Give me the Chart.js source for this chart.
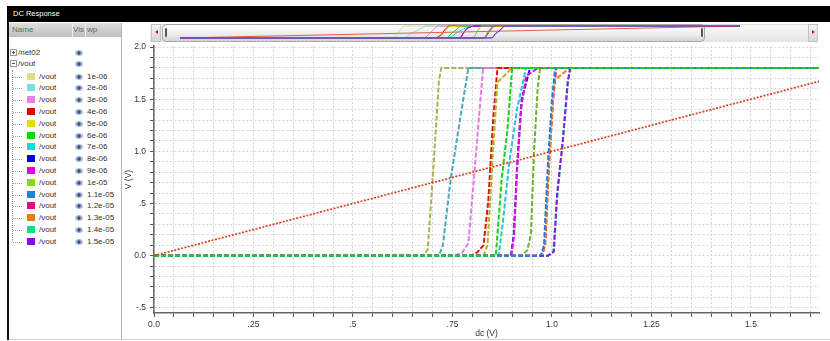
<!DOCTYPE html>
<html>
<head>
<meta charset="utf-8">
<script src="https://cdn.jsdelivr.net/npm/chart.js@4.4.0/dist/chart.umd.min.js"></script>
<style>
  body { margin:0; width:830px; height:341px; background:#fff; position:relative; overflow:hidden;
         font-family:"Liberation Sans", Arial, sans-serif; }
  .abs { position:absolute; }
  #titlebar { left:7px; top:6px; width:823px; height:16px; background:#000; color:#fff;
              font-size:7.5px; line-height:16px; padding-left:6px; box-sizing:border-box; }
  #leftEdge { left:7px; top:22px; width:2px; height:318px; background:#111; }
  #panelEdge { left:121px; top:23px; width:1px; height:316px; background:#b5b5b5; }
  #bottomLine { left:9px; top:339px; width:821px; height:1px; background:#d0d0d0; }
  #head { left:9px; top:23px; width:112px; height:14px; background:linear-gradient(#dedede,#bfbfbf);
          font-size:8px; line-height:14px; color:#666; }
  #head span { position:absolute; top:0; }
  #head i { position:absolute; top:0; width:1px; height:14px; background:#eee; }
  .row { position:absolute; left:0; height:10px; line-height:10px; font-size:8px; color:#333; }
  .row span { position:absolute; top:0; white-space:nowrap; }
  .eye { position:absolute; width:8px; height:6px; border-radius:50%;
         background:radial-gradient(circle, #3a4f7c 0 1.2px, #93a8d0 2px, #b4c4e2 3px); }
  .sw { position:absolute; width:8px; height:7px; }
  .box { position:absolute; left:10px; width:5px; height:5px; border:1px solid #999; background:#fff; }
  .box:before { content:""; position:absolute; left:1px; top:2px; width:3px; height:1px; background:#555; }
  .box.plus:after { content:""; position:absolute; left:2px; top:1px; width:1px; height:3px; background:#555; }
  #treeLine { left:12px; top:70px; width:0; height:172px; border-left:1px dotted #999; }
  .branch { position:absolute; left:13px; width:9px; height:0; border-top:1px dotted #999; }
  #bar { left:150px; top:24px; width:668px; height:18px; background:linear-gradient(#fafafa,#e4e4e4);
         border-top:1px solid #ddd; box-sizing:border-box; }
  .btn { position:absolute; top:24px; width:10px; height:18px; background:linear-gradient(#f4f4f4,#d6d6d6);
         border:1px solid #c4c4c4; box-sizing:border-box; }
  #thumb { left:162px; top:24px; width:543px; height:18px; border:1px solid #a8a8a8; border-radius:4px;
           background:linear-gradient(#ffffff,#ececec 60%,#d4d4d4); box-sizing:border-box; }
  .grip { position:absolute; top:28px; width:2px; height:9px; background:#555; border-radius:1px; }
  .tri { position:absolute; top:30px; width:0; height:0; border-top:2.5px solid transparent; border-bottom:2.5px solid transparent; }
  #main { left:122px; top:42px; }
  #over { left:180px; top:24px; }
</style>
</head>
<body>
<div id="titlebar" class="abs">DC Response</div>
<div id="bar" class="abs"></div>
<div class="btn" style="left:151px"></div>
<div class="tri" style="left:155px; border-right:3px solid #d81010"></div>
<div id="thumb" class="abs"></div>
<div class="grip" style="left:165px"></div>
<div class="grip" style="left:701px"></div>
<div class="btn" style="left:808px"></div>
<div class="tri" style="left:812px; border-left:3px solid #d81010"></div>
<canvas id="over" class="abs" width="560" height="16"></canvas>
<canvas id="main" class="abs" width="708" height="299"></canvas>
<div id="leftEdge" class="abs"></div>
<div id="panelEdge" class="abs"></div>
<div id="head" class="abs"><span style="left:3px">Name</span><i style="left:63px"></i><span style="left:64px">Vis</span><i style="left:76px"></i><span style="left:78px">wp</span></div>
<div id="tree" class="abs" style="left:0; top:0;"></div>
<div id="bottomLine" class="abs"></div>
<script>
// sweep widths (wp) and colours, in legend order
const widths = ['1e-06', '2e-06', '3e-06', '4e-06', '5e-06', '6e-06', '7e-06', '8e-06',
                '9e-06', '1e-05', '1.1e-05', '1.2e-05', '1.3e-05', '1.4e-05', '1.5e-05'];
const swatchColors = ['#dede80', '#80dede', '#e282e2', '#e00000', '#e0e000', '#00e000', '#00e0e0', '#0000e0',
                      '#e000e0', '#84e000', '#1e82e0', '#e0107c', '#e08010', '#10e08c', '#8010f0'];
const lineColors = ['#b2ae52', '#48aab4', '#e47ae4', '#dc1414', '#bab424', '#14d414', '#2cc4d4', '#1010d8',
                    '#e010e0', '#6cb42c', '#2480e0', '#e01478', '#e88418', '#14d088', '#8818f4'];
// which curve lies on top (lower = drawn later)
const drawOrder = [12, 11, 10, 9, 8, 1, 7, 13, 6, 3, 2, 14, 5, 15, 4];

// /net02 is the swept dc input itself
const net02 = [[0, 0], [1.8, 1.8]];

// /vout for each wp as (dc, V) knots
const vout1 = [[0, 0], [0.676, 0], [0.688, 0.06], [0.703, 0.9], [0.716, 1.68], [0.722, 1.8], [1.8, 1.8]];
const vout2 = [[0, 0], [0.716, 0], [0.726, 0.1], [0.745, 0.72], [0.775, 1.45], [0.79, 1.8], [1.8, 1.8]];
const vout3 = [[0, 0], [0.755, 0], [0.775, 0.03], [0.79, 0.12], [0.806, 0.84], [0.827, 1.8], [1.8, 1.8]];
const vout4 = [[0, 0], [0.795, 0], [0.812, 0.03], [0.828, 0.1], [0.84, 0.52], [0.852, 1.29], [0.863, 1.8], [1.8, 1.8]];
const vout5 = [[0, 0], [0.828, 0], [0.838, 0.1], [0.852, 1.0], [0.863, 1.66], [0.9, 1.8], [1.8, 1.8]];
const vout6 = [[0, 0], [0.859, 0], [0.865, 0.3], [0.874, 0.75], [0.888, 1.2], [0.9, 1.8], [1.8, 1.8]];
const vout7 = [[0, 0], [0.866, 0], [0.876, 0.3], [0.893, 0.9], [0.912, 1.4], [0.935, 1.8], [1.8, 1.8]];
const vout8 = [[0, 0], [0.897, 0], [0.904, 0.2], [0.913, 0.9], [0.924, 1.5], [0.945, 1.8], [1.8, 1.8]];
const vout9 = [[0, 0], [0.898, 0], [0.905, 0.2], [0.912, 0.8], [0.922, 1.4], [0.935, 1.72], [0.965, 1.8], [1.8, 1.8]];
const vout10 = [[0, 0], [0.922, 0], [0.938, 0.05], [0.947, 0.2], [0.955, 1.0], [0.964, 1.6], [0.97, 1.8], [1.8, 1.8]];
const vout11 = [[0, 0], [0.972, 0], [0.98, 0.1], [0.99, 0.9], [1.0, 1.5], [1.008, 1.8], [1.8, 1.8]];
const vout12 = [[0, 0], [0.975, 0], [0.983, 0.1], [0.993, 0.9], [1.003, 1.5], [1.011, 1.8], [1.8, 1.8]];
const vout13 = [[0, 0], [0.974, 0], [0.982, 0.1], [0.993, 0.9], [1.006, 1.68], [1.045, 1.8], [1.8, 1.8]];
const vout14 = [[0, 0], [0.99, 0], [1.003, 0.03], [1.012, 0.5], [1.027, 1.1], [1.039, 1.65], [1.046, 1.8], [1.8, 1.8]];
const vout15 = [[0, 0], [0.99, 0], [1.005, 0.04], [1.013, 0.6], [1.028, 1.13], [1.04, 1.67], [1.046, 1.8], [1.8, 1.8]];
const vout = [vout1, vout2, vout3, vout4, vout5, vout6, vout7, vout8, vout9, vout10, vout11, vout12, vout13, vout14, vout15];

// axis ticks
const xTickVals = [0, 0.25, 0.5, 0.75, 1.0, 1.25, 1.5];
const xTickLabels = ['0.0', '.25', '.5', '.75', '1.0', '1.25', '1.5'];
const yTickVals = [-0.5, 0, 0.5, 1.0, 1.5, 2.0];
const yTickLabels = ['-.5', '0.0', '.5', '1.0', '1.5', '2.0'];
const xGrid = Array.from({length: 34}, (_, i) => i * 0.05);
const yGrid = Array.from({length: 26}, (_, i) => -0.5 + i * 0.1);

// left signal tree
const tree = document.getElementById('tree');
function addRow(y, html) {
  const r = document.createElement('div');
  r.className = 'row';
  r.style.top = (y - 5) + 'px';
  r.style.width = '120px';
  r.innerHTML = html;
  tree.appendChild(r);
}
addRow(52.5, '<div class="box plus" style="top:1px"></div><span style="left:18px">/net02</span><div class="eye" style="left:75px;top:2px"></div>');
addRow(64, '<div class="box" style="top:1px"></div><span style="left:18px">/vout</span><div class="eye" style="left:75px;top:2px"></div>');
const tl = document.createElement('div');
tl.id = 'treeLine'; tl.className = 'abs';
tree.appendChild(tl);
widths.forEach((w, i) => {
  const y = 76.5 + i * 11.8;
  addRow(y, '<div class="branch" style="top:5px"></div>' +
    '<div class="sw" style="left:27px;top:1px;background:' + swatchColors[i] + '"></div>' +
    '<span style="left:39px">/vout</span><div class="eye" style="left:75px;top:2px"></div>' +
    '<span style="left:87px">' + w + '</span>');
});

function labelFor(vals, labels, v) {
  const k = vals.findIndex(t => Math.abs(t - v) < 1e-6);
  return k < 0 ? '' : labels[k];
}
const pts = a => a.map(p => ({x: p[0], y: p[1]}));
const font = {family: '"Liberation Sans", Arial, sans-serif', size: 8.5};

const mainSets = vout.map((a, i) => ({
  label: '/vout ' + widths[i],
  data: pts(a),
  borderColor: lineColors[i],
  borderWidth: 2,
  borderDash: [5, 2],
  pointRadius: 0,
  order: drawOrder[i]
}));
mainSets.push({
  label: '/net02',
  data: pts(net02),
  borderColor: '#d8401c',
  borderWidth: 1.7,
  borderDash: [2, 1.5],
  pointRadius: 0,
  order: 0
});

new Chart(document.getElementById('main'), {
  type: 'line',
  data: {datasets: mainSets},
  options: {
    responsive: false,
    animation: false,
    devicePixelRatio: 1,
    layout: {padding: {left: 0, right: 11, top: 4, bottom: 0}},
    plugins: {legend: {display: false}, tooltip: {enabled: false}},
    scales: {
      x: {
        type: 'linear', min: 0, max: 1.671,
        afterBuildTicks: s => { s.ticks = xGrid.map(v => ({value: v})); },
        afterFit: s => { s.height = 28; s.paddingLeft = 0; s.paddingRight = 0; },
        grid: {color: '#d6d6d6', tickColor: '#555', tickLength: 4},
        border: {color: '#666', width: 1.5, dash: [2, 2]},
        ticks: {autoSkip: false, maxRotation: 0, padding: 3, color: '#333', font: font,
                callback: v => labelFor(xTickVals, xTickLabels, v)},
        title: {display: true, text: 'dc (V)', color: '#333', font: font, padding: {top: 0, bottom: 2}}
      },
      y: {
        min: -0.55, max: 2.01,
        afterBuildTicks: s => { s.ticks = yGrid.map(v => ({value: v})); },
        afterFit: s => { s.width = 32; s.paddingTop = 0; s.paddingBottom = 0; },
        grid: {color: '#d6d6d6', tickColor: '#555', tickLength: 4},
        border: {color: '#666', width: 1.5, dash: [2, 2]},
        ticks: {autoSkip: false, padding: 4, color: '#333', font: font,
                callback: v => labelFor(yTickVals, yTickLabels, v)},
        title: {display: true, text: 'V (V)', color: '#333', font: font, padding: {top: 2, bottom: 0}}
      }
    }
  }
});

// overview strip in the scroll bar
const overSets = vout.map((a, i) => ({
  data: pts(a), borderColor: swatchColors[i], borderWidth: 1, pointRadius: 0, order: 15 - i
}));
overSets.push({data: pts(net02), borderColor: '#e06050', borderWidth: 1, pointRadius: 0, order: 1});
new Chart(document.getElementById('over'), {
  type: 'line',
  data: {datasets: overSets},
  options: {
    responsive: false,
    animation: false,
    devicePixelRatio: 1,
    layout: {padding: 0},
    plugins: {legend: {display: false}, tooltip: {enabled: false}},
    scales: {
      x: {type: 'linear', min: 0, max: 1.8, display: false},
      y: {min: -0.3, max: 2.1, display: false}
    }
  }
});
</script>
</body>
</html>
